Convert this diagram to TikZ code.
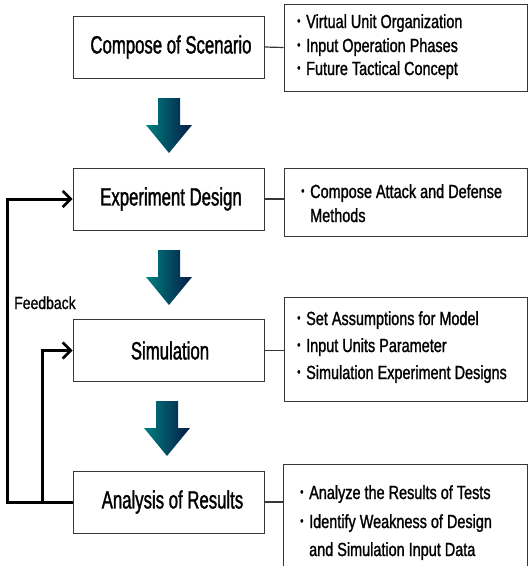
\documentclass[tikz,border=0pt]{standalone}
\usepackage{fontspec}
\setmainfont{Liberation Sans}
\newfontfamily\stagefont[FakeStretch=0.67,FakeBold=1.3]{Liberation Sans}
\newfontfamily\itemfont[FakeStretch=0.76,FakeBold=1.2]{Liberation Sans}
\newfontfamily\notefont[FakeStretch=0.8,FakeBold=1.0]{Liberation Sans}
\usetikzlibrary{arrows.meta}

\definecolor{boxgray}{RGB}{55,55,55}
\definecolor{flowteal}{RGB}{0,128,128}
\definecolor{flownavy}{RGB}{5,25,70}

% small bullet followed by its gap, as in the item lists
\newcommand{\itembul}{\makebox[9pt][l]{\raisebox{0.3ex}{\scalebox{0.65}{\textbullet}}}}

\begin{document}
\begin{tikzpicture}[x=1pt,y=-1pt,
  stagebox/.style={draw=boxgray, line width=0.9pt, minimum width=191pt,
    minimum height=62pt, inner sep=0pt, font=\stagefont\fontsize{25}{28}\selectfont},
  notebox/.style={draw=boxgray, line width=0.9pt},
  itemtext/.style={anchor=base west, inner sep=0pt, font=\itemfont\fontsize{19}{22}\selectfont},
  link/.style={draw=boxgray, line width=1.2pt},
  feedback/.style={line width=3pt, black},
  fbtip/.style={-{Straight Barb[length=8pt,width=16pt,line width=2.6pt]}},
  flowarrow/.pic={
    \path[left color=flowteal, right color=flownavy]
      (-11,0) -- (11,0) -- (11,27) -- (23,27) -- (0,55) -- (-23,27) -- (-11,27) -- cycle;
  }
]
\useasboundingbox (0,0) rectangle (528,566);

% process stages
\node[stagebox] (scen) at (168.5,47) {\hspace*{5pt}Compose of Scenario};
\node[stagebox] (design) at (168.5,199) {\hspace*{5pt}Experiment Design};
\node[stagebox] (sim) at (168.5,350.5) {\hspace*{3pt}Simulation};
\node[stagebox] (anal) at (168.5,502) {\hspace*{8pt}Analysis of Results};

% flow arrows between stages
\pic at (169,98) {flowarrow};
\pic at (169,250) {flowarrow};
\pic at (167,401) {flowarrow};

% description boxes
\node[notebox, minimum width=243pt, minimum height=87pt, inner sep=0pt] (scenN) at (405.5,47.5) {};
\node[notebox, minimum width=243pt, minimum height=68pt, inner sep=0pt] (designN) at (405.5,202) {};
\node[notebox, minimum width=243pt, minimum height=104pt, inner sep=0pt] (simN) at (405.5,349) {};
\coordinate (analNtl) at (283,464);
\coordinate (analNtr) at (527.5,464);
\draw[notebox] (283,570) -- (analNtl) -- (analNtr) -- (527.5,570);
\coordinate (analNw) at (283,502);

% links from stages to their descriptions
\draw[link] (scen.east) -- (scenN.west);
\draw[link] (design.east) -- (design.east -| designN.west);
\draw[link] (sim.east) -- (sim.east -| simN.west);
\draw[link] (anal.east) -- (analNw);

% description texts
\node[itemtext] (s1) at (297,28) {\itembul Virtual Unit Organization};
\node[itemtext] (s2) at (297,52) {\itembul Input Operation Phases};
\node[itemtext] (s3) at (297,75) {\itembul Future Tactical Concept};

\node[itemtext] (d1) at (301,198) {\itembul Compose Attack and Defense};
\node[itemtext] (d2) at (310,222) {Methods};

\node[itemtext] (m1) at (297,325) {\itembul Set Assumptions for Model};
\node[itemtext] (m2) at (297,352) {\itembul Input Units Parameter};
\node[itemtext] (m3) at (297,379) {\itembul Simulation Experiment Designs};

\node[itemtext] (a1) at (300,499) {\itembul Analyze the Results of Tests};
\node[itemtext] (a2) at (300,528) {\itembul Identify Weakness of Design};
\node[itemtext] (a3) at (309,556) {and Simulation Input Data};

% feedback loops
\coordinate (fbouter) at (7,0);
\coordinate (fbinner) at (42,0);
\draw[feedback, fbtip] (anal.west) -- (anal.west -| fbouter) |- (design.west);
\draw[feedback, fbtip] (anal.west -| fbinner) |- (sim.west);
\node[anchor=base west, inner sep=0pt, font=\notefont\fontsize{17.5}{20}\selectfont] (fblabel) at (14,309) {Feedback};
\end{tikzpicture}
\end{document}
